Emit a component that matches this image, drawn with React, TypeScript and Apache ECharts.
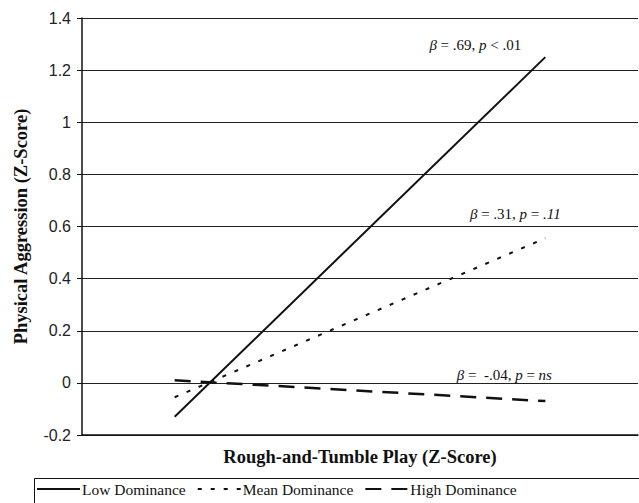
import React, { useEffect, useRef } from "react";
import * as echarts from "echarts";

const xPoints = [-1, 1];
const lowDominance = [-0.13, 1.25];
const meanDominance = [-0.055, 0.555];
const highDominance = [0.01, -0.07];
const seriesNames = ["Low Dominance", "Mean Dominance", "High Dominance"];
const annotations = [
  ["β", " = .69, ", "p", " < .01"],
  ["β", " = .31, ", "p", " = ", ".11"],
  ["β", " =  -.04, ", "p", " = ", "ns"],
];

const serif = "'Liberation Serif', 'Times New Roman', serif";
const sans = "'Liberation Sans', Arial, sans-serif";

function annotationText(parts: string[]) {
  return parts
    .map((p, i) => {
      const italic = p === "β" || p === "p" || i === 4;
      return `{${italic ? "i" : "n"}|${p}}`;
    })
    .join("");
}

function endLabel(ann: string[], offset: number[]) {
  return {
    show: true,
    align: "center",
    verticalAlign: "bottom",
    distance: 0,
    offset,
    formatter: () => annotationText(ann),
    rich: {
      i: { fontFamily: serif, fontStyle: "italic", fontSize: 15, color: "#111" },
      n: { fontFamily: serif, fontSize: 15, color: "#111" },
    },
  };
}

function buildData(values: number[]) {
  return values.map((v, i) => [xPoints[i], v]);
}

export default function App() {
  const ref = useRef<HTMLDivElement>(null);
  useEffect(() => {
    if (!ref.current) return;
    const chart = echarts.init(ref.current, undefined, { renderer: "svg" });
    chart.setOption({
      animation: false,
      backgroundColor: "#fff",
      grid: { left: 82, right: 1, top: 18, bottom: 68 },
      xAxis: {
        type: "value",
        min: -1.5,
        max: 1.5,
        axisLabel: { show: false },
        axisTick: { show: false },
        splitLine: { show: false },
        axisLine: { show: true, onZero: false, lineStyle: { color: "#111", width: 1.5 } },
        name: "Rough-and-Tumble Play (Z-Score)",
        nameLocation: "middle",
        nameGap: 12,
        nameTextStyle: { fontFamily: serif, fontWeight: "bold", fontSize: 18.5, color: "#111", verticalAlign: "top" },
      },
      yAxis: {
        type: "value",
        min: -0.2,
        max: 1.4,
        interval: 0.2,
        axisLine: { show: true, onZero: false, lineStyle: { color: "#111", width: 1.5 } },
        axisTick: { show: true, length: 5, lineStyle: { color: "#111" } },
        axisLabel: { fontFamily: sans, fontSize: 16, color: "#222", margin: 11 },
        splitLine: { show: true, lineStyle: { color: "#222", width: 1 } },
        name: "Physical Aggression (Z-Score)",
        nameLocation: "middle",
        nameGap: 52,
        nameTextStyle: { fontFamily: serif, fontWeight: "bold", fontSize: 18.5, color: "#111" },
      },
      legend: {
        left: 36,
        top: 481,
        itemWidth: 43,
        itemHeight: 12,
        itemGap: 11,
        padding: 0,
        itemStyle: { color: "transparent", borderWidth: 0, opacity: 0 },
        textStyle: { fontFamily: serif, fontSize: 15.5, color: "#111", padding: [0, 0, 0, -3] },
        data: seriesNames,
      },
      graphic: [
        {
          type: "rect",
          left: 32,
          top: 476,
          shape: { width: 606, height: 40 },
          style: { fill: "none", stroke: "#111", lineWidth: 1 },
          silent: true,
        },
      ],
      series: [
        {
          name: seriesNames[0],
          type: "line",
          symbol: "none",
          data: buildData(lowDominance),
          lineStyle: { color: "#111", width: 2, type: "solid" },
          itemStyle: { color: "#111" },
          endLabel: endLabel(annotations[0], [-70, -5]),
        },
        {
          name: seriesNames[1],
          type: "line",
          symbol: "none",
          data: buildData(meanDominance),
          lineStyle: { color: "#111", width: 2, type: [4, 9] },
          itemStyle: { color: "#111" },
          endLabel: endLabel(annotations[1], [-30, -17]),
        },
        {
          name: seriesNames[2],
          type: "line",
          symbol: "none",
          data: buildData(highDominance),
          lineStyle: { color: "#111", width: 2.5, type: [16, 10] },
          itemStyle: { color: "#111" },
          endLabel: endLabel(annotations[2], [-41, -19]),
        },
      ],
    });
    return () => chart.dispose();
  }, []);
  return <div ref={ref} style={{ width: 639, height: 503, position: "absolute", left: 0, top: 0 }} />;
}
